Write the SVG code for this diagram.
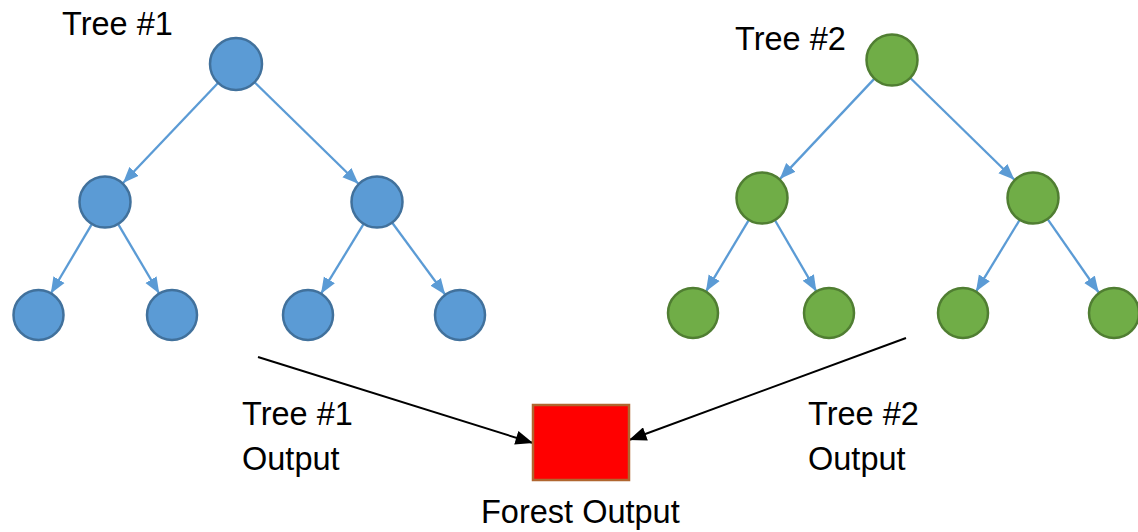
<svg xmlns="http://www.w3.org/2000/svg" width="1138" height="532" viewBox="0 0 1138 532">
<style>
.b{fill:#5B9BD5;stroke:#41719C;stroke-width:2.5}
.g{fill:#70AD47;stroke:#507E32;stroke-width:2.5}
.e{stroke:#5B9BD5;stroke-width:2.3;fill:none}
.k{stroke:#000;stroke-width:2;fill:none}
text{font-family:"Liberation Sans",Arial,sans-serif;font-size:32.5px;fill:#000}
</style>
<defs>
<marker id="ab" viewBox="0 0 10 8" refX="10" refY="4" markerWidth="7" markerHeight="6" orient="auto"><path d="M0,0 L10,4 L0,8 z" fill="#5B9BD5"/></marker>
<marker id="ak" viewBox="0 0 10 8" refX="10" refY="4" markerWidth="9" markerHeight="7" orient="auto"><path d="M0,0 L10,4 L0,8 z" fill="#000"/></marker>
</defs>
<g id="connectors">
<line class="e" x1="218" y1="83" x2="123" y2="183" marker-end="url(#ab)"/>
<line class="e" x1="254.6" y1="82.2" x2="358.4" y2="183.8" marker-end="url(#ab)"/>
<line class="e" x1="91.7" y1="224.4" x2="50.8" y2="293.5" marker-end="url(#ab)"/>
<line class="e" x1="118.3" y1="224.4" x2="159.2" y2="293.5" marker-end="url(#ab)"/>
<line class="e" x1="363.5" y1="224.2" x2="321" y2="293.7" marker-end="url(#ab)"/>
<line class="e" x1="392.4" y1="223" x2="445.2" y2="294.8" marker-end="url(#ab)"/>
<line class="e" x1="874.2" y1="78.9" x2="779.8" y2="179.1" marker-end="url(#ab)"/>
<line class="e" x1="910.6" y1="78.2" x2="1014.4" y2="179.8" marker-end="url(#ab)"/>
<line class="e" x1="748.6" y1="220.3" x2="705.9" y2="291.6" marker-end="url(#ab)"/>
<line class="e" x1="775.1" y1="220.5" x2="816.4" y2="291.4" marker-end="url(#ab)"/>
<line class="e" x1="1019.5" y1="220.2" x2="976" y2="291.6" marker-end="url(#ab)"/>
<line class="e" x1="1047.8" y1="219.3" x2="1098.7" y2="292.5" marker-end="url(#ab)"/>
<line class="k" x1="258" y1="357" x2="533" y2="443" marker-end="url(#ak)"/>
<line class="k" x1="906" y1="338" x2="629" y2="440" marker-end="url(#ak)"/>
</g>
<g id="tree1">
<circle id="t1-root" class="b" cx="236" cy="64" r="26"/>
<circle id="t1-l" class="b" cx="105" cy="202" r="25.5"/>
<circle id="t1-r" class="b" cx="377" cy="202" r="25.5"/>
<circle id="t1-ll" class="b" cx="38.5" cy="315" r="25"/>
<circle id="t1-lr" class="b" cx="172" cy="315" r="25"/>
<circle id="t1-rl" class="b" cx="308" cy="315" r="25"/>
<circle id="t1-rr" class="b" cx="460" cy="315" r="25"/>
</g>
<g id="tree2">
<circle id="t2-root" class="g" cx="892" cy="60" r="25.5"/>
<circle id="t2-l" class="g" cx="762" cy="198" r="25.5"/>
<circle id="t2-r" class="g" cx="1033" cy="198" r="25.5"/>
<circle id="t2-ll" class="g" cx="693" cy="313" r="25"/>
<circle id="t2-lr" class="g" cx="829" cy="313" r="25"/>
<circle id="t2-rl" class="g" cx="963" cy="313" r="25"/>
<circle id="t2-rr" class="g" cx="1114" cy="313" r="25"/>
</g>
<g id="forest-output">
<rect x="533" y="405" width="96" height="75" fill="#FF0000" stroke="#B0662F" stroke-width="2.5"/>
</g>
<g id="labels">
<text x="62" y="35">Tree #1</text>
<text x="735" y="50">Tree #2</text>
<text x="242" y="425">Tree #1</text>
<text x="242" y="470">Output</text>
<text x="808" y="425">Tree #2</text>
<text x="808" y="470">Output</text>
<text x="481" y="523">Forest Output</text>
</g>
</svg>
